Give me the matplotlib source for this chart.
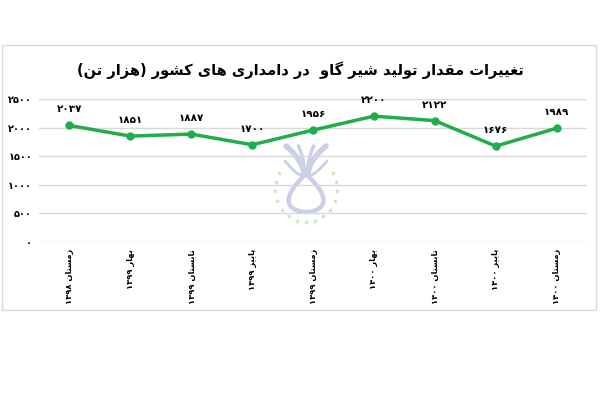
#!/usr/bin/env python3
import re
import numpy as np
import matplotlib
matplotlib.use("Agg")
import matplotlib.pyplot as plt
from matplotlib.patches import Rectangle

# data
seasons = ["زمستان", "بهار", "تابستان", "پاییز", "زمستان", "بهار", "تابستان", "پاییز", "زمستان"]
years = [1398, 1399, 1399, 1399, 1399, 1400, 1400, 1400, 1400]
milk = [2037, 1851, 1887, 1700, 1956, 2200, 2122, 1676, 1989]
yticks = [0, 500, 1000, 1500, 2000, 2500]
title = "تغییرات مقدار تولید شیر گاو  در دامداری های کشور (هزار تن)"

# isolated, final, initial, medial
FORMS = {
    "ا": ("\uFE8D", "\uFE8E", None, None),
    "ب": ("\uFE8F", "\uFE90", "\uFE91", "\uFE92"),
    "پ": ("\uFB56", "\uFB57", "\uFB58", "\uFB59"),
    "ت": ("\uFE95", "\uFE96", "\uFE97", "\uFE98"),
    "د": ("\uFEA9", "\uFEAA", None, None),
    "ر": ("\uFEAD", "\uFEAE", None, None),
    "ز": ("\uFEAF", "\uFEB0", None, None),
    "س": ("\uFEB1", "\uFEB2", "\uFEB3", "\uFEB4"),
    "ش": ("\uFEB5", "\uFEB6", "\uFEB7", "\uFEB8"),
    "غ": ("\uFECD", "\uFECE", "\uFECF", "\uFED0"),
    "ق": ("\uFED5", "\uFED6", "\uFED7", "\uFED8"),
    "ل": ("\uFEDD", "\uFEDE", "\uFEDF", "\uFEE0"),
    "م": ("\uFEE1", "\uFEE2", "\uFEE3", "\uFEE4"),
    "ن": ("\uFEE5", "\uFEE6", "\uFEE7", "\uFEE8"),
    "ه": ("\uFEE9", "\uFEEA", "\uFEEB", "\uFEEC"),
    "و": ("\uFEED", "\uFEEE", None, None),
    "ک": ("\uFB8E", "\uFB8F", "\uFB90", "\uFB91"),
    "گ": ("\uFB92", "\uFB93", "\uFB94", "\uFB95"),
    "ی": ("\uFBFC", "\uFBFD", "\uFBFE", "\uFBFF"),
}

FA_DIGITS = str.maketrans("0123456789", "۰۱۲۳۴۵۶۷۸۹")


def fa(n):
    return str(n).translate(FA_DIGITS)


def shape(text):
    # contextual forms + right-to-left order (matplotlib does no shaping itself)
    out = []
    for i, ch in enumerate(text):
        if ch not in FORMS:
            out.append(ch)
            continue
        iso, fin, ini, med = FORMS[ch]
        prev = text[i - 1] if i > 0 else ""
        nxt = text[i + 1] if i + 1 < len(text) else ""
        join_prev = prev in FORMS and FORMS[prev][2] is not None
        join_next = nxt in FORMS and ini is not None
        if join_prev and join_next:
            out.append(med)
        elif join_prev:
            out.append(fin)
        elif join_next:
            out.append(ini)
        else:
            out.append(iso)
    s = "".join(out)[::-1]
    s = re.sub("[0-9\u06F0-\u06F9]+", lambda m: m.group(0)[::-1], s)
    return s.translate(str.maketrans("()", ")("))


plt.rcParams["font.family"] = ["DejaVu Sans"]
plt.rcParams["font.weight"] = "bold"

fig = plt.figure(figsize=(6, 4), dpi=100)
fig.patches.append(Rectangle((2 / 600, 90 / 400), 594 / 600, 265 / 400, transform=fig.transFigure,
                             fill=False, edgecolor="#d9d9d9", lw=1))

fig.text(0.5, 0.825, shape(title), ha="center", va="center", fontsize=10.5, fontweight="bold")

# faint watermark logo
logo = fig.add_axes([240 / 600, 1 - 235 / 400, 132 / 600, 100 / 400])
logo.set_xlim(-66, 66)
logo.set_ylim(-55, 45)
logo.set_aspect("equal")
logo.axis("off")
ang = np.deg2rad(np.linspace(150, 390, 15))
logo.scatter(31 * np.cos(ang), 33 * np.sin(ang) - 9, marker="*", s=16, color="#c3e2ad", lw=0)
lav = "#cdcfe8"
t = np.linspace(0.3, 2 * np.pi - 0.3, 100)
logo.plot(24 * np.sin(t) * np.sin(t / 2) ** 1.3, -12.5 + 19.5 * np.cos(t), color=lav, lw=3.2)
u = np.linspace(0, 1, 40)
for side in (-1, 1):
    logo.plot(side * (2 + 3 * u + 15 * u ** 2), 6 + 28 * u, color=lav, lw=4, solid_capstyle="round")
    logo.plot(side * (1.5 + 1 * u + 5 * u ** 2), 8 + 26 * u, color=lav, lw=2.5, solid_capstyle="round")
    logo.plot(side * (5 + 16 * u), 5 + 14 * u ** 1.4, color=lav, lw=2, solid_capstyle="round")

ax = fig.add_axes([39 / 600, 1 - 242 / 400, 548 / 600, 143 / 400])
ax.patch.set_alpha(0)
x = np.arange(len(milk))
ax.plot(x, milk, color="#1fae4b", lw=2.5, marker="o", markersize=5, zorder=3)
for xi, v in zip(x, milk):
    ax.annotate(fa(v), (xi, v), xytext=(0, 8), textcoords="offset points",
                ha="center", va="bottom", fontsize=7.5, fontweight="bold")

ax.set_xlim(-0.5, len(milk) - 0.5)
ax.set_ylim(0, 2500)
ax.set_yticks(yticks)
ax.set_yticklabels([fa(v) for v in yticks], fontsize=7, fontweight="bold")
ax.set_xticks(x)
ax.set_xticklabels([shape(s + " " + fa(y)) for s, y in zip(seasons, years)],
                   rotation=90, fontsize=6, fontweight="bold")
ax.tick_params(length=0, pad=5)
ax.grid(axis="y", color="#d9d9d9", lw=1)
for sp in ax.spines.values():
    sp.set_visible(False)

fig.savefig("out.png", dpi=100)
